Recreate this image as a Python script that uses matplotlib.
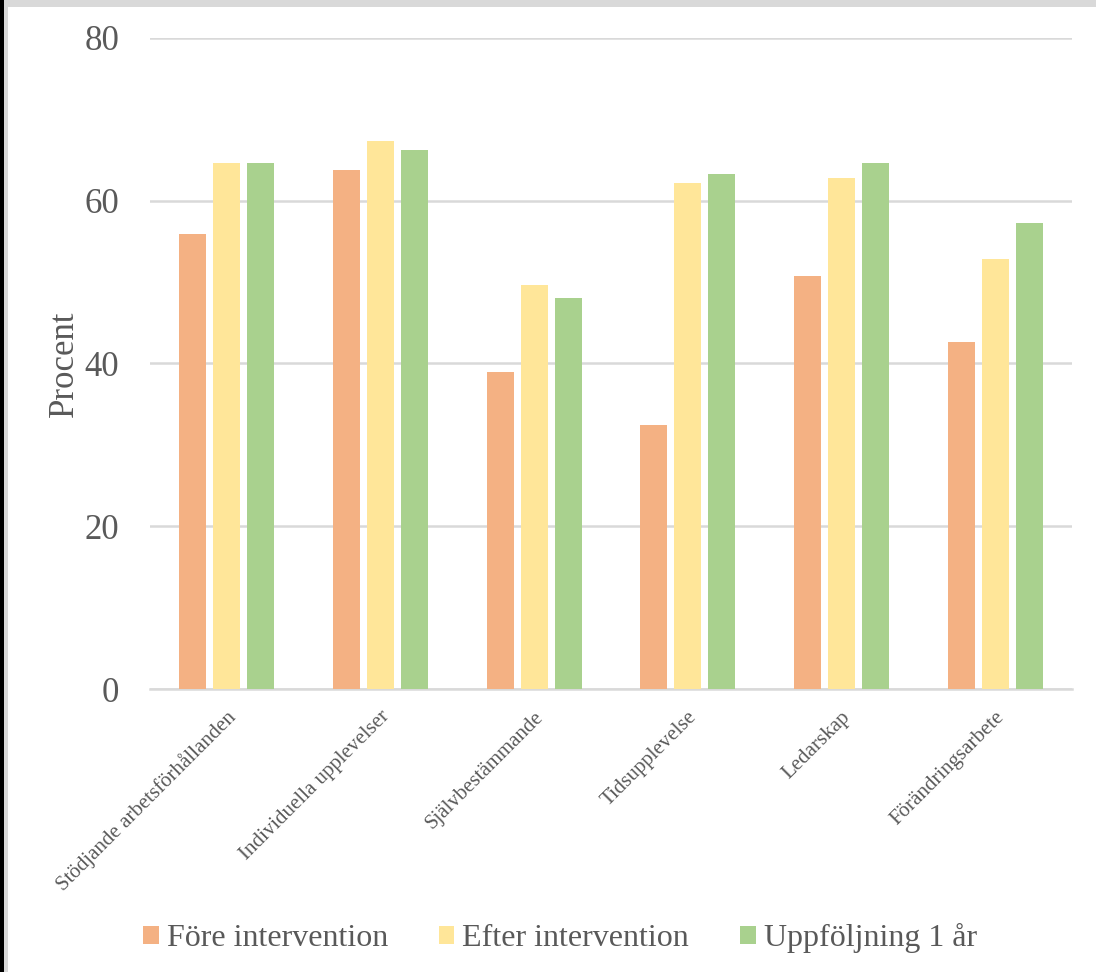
import matplotlib
matplotlib.use("Agg")
import matplotlib.pyplot as plt
from matplotlib.patches import Rectangle
from matplotlib.transforms import ScaledTranslation
import numpy as np

categories = [
    "Stödjande arbetsförhållanden",
    "Individuella upplevelser",
    "Självbestämmande",
    "Tidsupplevelse",
    "Ledarskap",
    "Förändringsarbete",
]
series_names = ["Före intervention", "Efter intervention", "Uppföljning 1 år"]
fore = [55.9, 63.8, 39.0, 32.5, 50.8, 42.6]
efter = [64.7, 67.3, 49.7, 62.2, 62.8, 52.9]
uppfoljning = [64.6, 66.2, 48.0, 63.3, 64.6, 57.3]
yticks = [0, 20, 40, 60, 80]

colors = ["#F4B183", "#FFE699", "#A9D18E"]
text_color = "#595959"
grid_color = "#D9D9D9"

plt.rcParams["font.family"] = ["Liberation Serif", "DejaVu Serif"]

fig = plt.figure(figsize=(10.96, 9.72), dpi=100)
ax = fig.add_axes([150 / 1096, 1 - 689 / 972, 922 / 1096, 651 / 972])

x = np.arange(len(categories))
pitch = 0.221
width = 0.176
for i, (vals, name, col) in enumerate(zip([fore, efter, uppfoljning], series_names, colors)):
    ax.bar(x + (i - 1) * pitch, vals, width=width, color=col, label=name, zorder=3)

ax.set_xlim(-0.5, len(categories) - 0.5)
ax.set_ylim(0, 80)
ax.set_yticks(yticks)
ax.set_yticklabels([str(t) for t in yticks], fontsize=25, color=text_color)
ax.tick_params(axis="y", length=0, pad=22)
ax.tick_params(axis="x", length=0, pad=4)
ax.yaxis.grid(True, color=grid_color, linewidth=1.8, zorder=0)
for s in ["left", "right", "top"]:
    ax.spines[s].set_visible(False)
ax.spines["bottom"].set_color(grid_color)
ax.spines["bottom"].set_linewidth(1.8)

ax.set_xticks(x)
ax.set_xticklabels(categories, rotation=45, ha="right", va="center",
                   rotation_mode="anchor", fontsize=15, color=text_color)
shift = ScaledTranslation(6 / 100, 0, fig.dpi_scale_trans)
for lbl in ax.get_xticklabels():
    lbl.set_y(-0.03)
    lbl.set_transform(lbl.get_transform() + shift)

ax.set_ylabel("Procent", fontsize=25, color=text_color)
ax.yaxis.set_label_coords(-69 / 922, 0.5)

fig.legend(loc="center", bbox_to_anchor=(560 / 1096, 1 - 938 / 972), ncol=3,
           frameon=False, fontsize=23, handlelength=0.48, handleheight=0.48,
           handletextpad=0.25, columnspacing=1.6, labelcolor=text_color)

# outer frame: dark left edge, light grey strips along left and top
fig.add_artist(Rectangle((0, 0), 8 / 1096, 1, transform=fig.transFigure,
                         facecolor="#D9D9D9", edgecolor="none", zorder=10))
fig.add_artist(Rectangle((0, 1 - 7 / 972), 1, 7 / 972, transform=fig.transFigure,
                         facecolor="#D9D9D9", edgecolor="none", zorder=10))
fig.add_artist(Rectangle((0, 0), 3.5 / 1096, 1, transform=fig.transFigure,
                         facecolor="#000000", edgecolor="none", zorder=11))

fig.savefig("out.png", dpi=100)
